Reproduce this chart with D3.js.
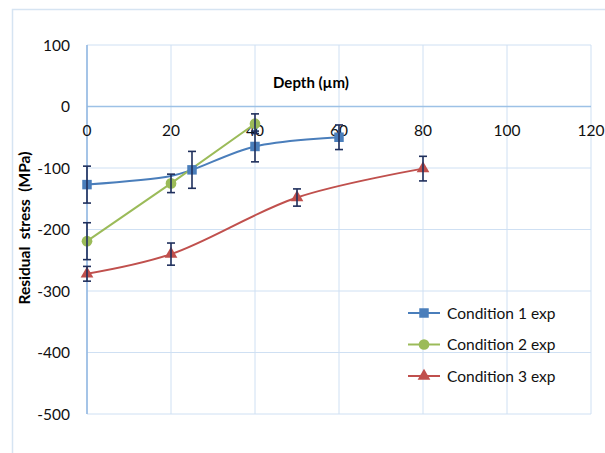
<!DOCTYPE html>
<html><head><meta charset="utf-8">
<script src="https://cdn.jsdelivr.net/npm/d3@7"></script>
<style>body{margin:0;background:#fff}svg{display:block}text{font-family:Lato,"Open Sans",sans-serif}</style>
</head><body><svg id="c" width="605" height="453"></svg>
<script>
const xTicks = [0,20,40,60,80,100,120];
const yTicks = [100,0,-100,-200,-300,-400,-500];
const seriesNames = ["Condition 1 exp","Condition 2 exp","Condition 3 exp"];
const c1x = [0,20,25,40,60];
const c1y = [-127,-113,-103,-65,-50];
const c1e = [30,null,30,25,20];
const c2x = [0,20,40];
const c2y = [-219,-125,-28];
const c2e = [30,15,16];
const c3x = [0,20,50,80];
const c3y = [-272,-240,-148,-101];
const c3e = [12,18,14,20];
const colors = ["#4a7ebb","#9bbb59","#c0504d"];

const svg = d3.select("#c");
svg.append("rect").attr("x",12.5).attr("y",9.5).attr("width",620).attr("height",460)
  .attr("fill","none").attr("stroke","#d6e4f2").attr("stroke-width",1.5);

const x = d3.scaleLinear().domain([0,120]).range([87,591]);
const y = d3.scaleLinear().domain([-500,100]).range([414,45]);

const g = svg.append("g");
g.selectAll(".vg").data(xTicks).enter().append("line")
  .attr("x1",d=>x(d)).attr("x2",d=>x(d)).attr("y1",y(100)).attr("y2",y(-500))
  .attr("stroke","#cfe0f3").attr("stroke-width",1);
g.selectAll(".hg").data(yTicks).enter().append("line")
  .attr("x1",x(0)).attr("x2",x(120)).attr("y1",d=>y(d)).attr("y2",d=>y(d))
  .attr("stroke","#cfe0f3").attr("stroke-width",1);
g.append("line").attr("x1",x(0)).attr("x2",x(120)).attr("y1",y(0)).attr("y2",y(0)).attr("stroke","#9dc1e6").attr("stroke-width",1.5);
g.append("line").attr("x1",x(0)).attr("x2",x(0)).attr("y1",y(100)).attr("y2",y(-500)).attr("stroke","#8fb6e0").attr("stroke-width",1.5);

g.selectAll(".yl").data(yTicks).enter().append("text")
  .attr("x",70).attr("y",d=>y(d)+5.5).attr("text-anchor","end")
  .attr("font-size",15.5).attr("fill","#111").text(d=>d);
g.selectAll(".xl").data(xTicks).enter().append("text")
  .attr("x",d=>x(d)).attr("y",y(0)+29).attr("text-anchor","middle")
  .attr("font-size",15.5).attr("fill","#111").text(d=>d);

svg.append("text").attr("x",311).attr("y",88).attr("text-anchor","middle")
  .attr("font-size",15).attr("font-weight","bold").text("Depth (µm)");
svg.append("text").attr("transform","translate(30,228) rotate(-90)").attr("text-anchor","middle")
  .attr("font-size",15.5).attr("font-weight","bold").attr("xml:space","preserve").text("Residual  stress  (MPa)");

const data = [
  {xs:c1x, ys:c1y, es:c1e, curve:d3.curveCatmullRom.alpha(0.5), shape:"square"},
  {xs:c2x, ys:c2y, es:c2e, curve:d3.curveLinear, shape:"circle"},
  {xs:c3x, ys:c3y, es:c3e, curve:d3.curveCatmullRom.alpha(0.5), shape:"triangle"}
];
const sym = {square:d3.symbolSquare, circle:d3.symbolCircle, triangle:d3.symbolTriangle};
const symSize = {square:90, circle:90, triangle:70};

data.forEach((s,i)=>{
  const pts = s.xs.map((v,j)=>({x:v,y:s.ys[j],e:s.es[j]}));
  g.append("path").datum(pts)
    .attr("d",d3.line().x(d=>x(d.x)).y(d=>y(d.y)).curve(s.curve))
    .attr("fill","none").attr("stroke",colors[i]).attr("stroke-width",2);
});
data.forEach((s,i)=>{
  const pts = s.xs.map((v,j)=>({x:v,y:s.ys[j],e:s.es[j]}));
  const mk = g.selectAll(null).data(pts.filter((d,j)=>!(i===0 && d.x===20))).enter();
  mk.append("path").attr("transform",d=>`translate(${x(d.x)},${y(d.y)})`)
    .attr("d",d3.symbol().type(sym[s.shape]).size(symSize[s.shape]))
    .attr("fill",colors[i]);
});
data.forEach((s,i)=>{
  const pts = s.xs.map((v,j)=>({x:v,y:s.ys[j],e:s.es[j]})).filter(d=>d.e!=null);
  const eb = g.selectAll(null).data(pts).enter().append("g").attr("stroke","#1f2f5c").attr("stroke-width",1.6);
  eb.append("line").attr("x1",d=>x(d.x)).attr("x2",d=>x(d.x)).attr("y1",d=>y(d.y+d.e)).attr("y2",d=>y(d.y-d.e));
  eb.append("line").attr("x1",d=>x(d.x)-4).attr("x2",d=>x(d.x)+4).attr("y1",d=>y(d.y+d.e)).attr("y2",d=>y(d.y+d.e));
  eb.append("line").attr("x1",d=>x(d.x)-4).attr("x2",d=>x(d.x)+4).attr("y1",d=>y(d.y-d.e)).attr("y2",d=>y(d.y-d.e));
});

const lg = svg.append("g");
seriesNames.forEach((n,i)=>{
  const ly = 313 + i*31.5;
  lg.append("line").attr("x1",408).attr("x2",440).attr("y1",ly).attr("y2",ly).attr("stroke",colors[i]).attr("stroke-width",2);
  lg.append("path").attr("transform",`translate(424,${ly})`)
    .attr("d",d3.symbol().type(sym[data[i].shape]).size(symSize[data[i].shape]))
    .attr("fill",colors[i]);
  lg.append("text").attr("x",447).attr("y",ly+5.5).attr("font-size",15.5).attr("fill","#111").text(n);
});
</script></body></html>
